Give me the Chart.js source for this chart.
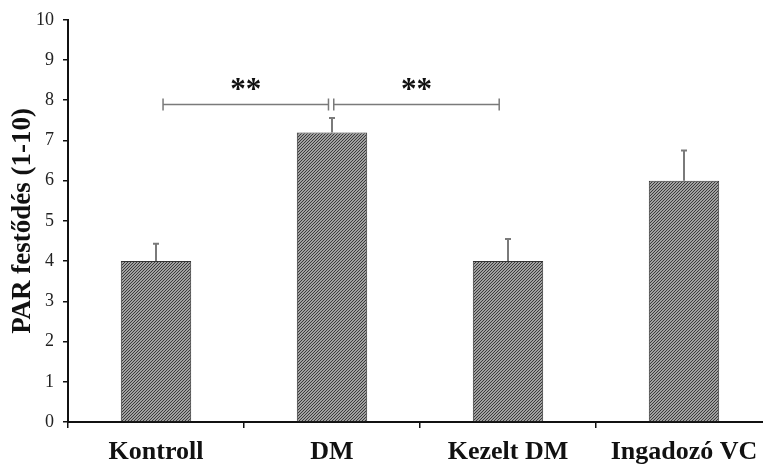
<!DOCTYPE html>
<html>
<head>
<meta charset="utf-8">
<script src="https://cdn.jsdelivr.net/npm/chart.js@4"></script>
<style>
  html, body { margin: 0; padding: 0; background: #fff; overflow: hidden; }
  #wrap { width: 790px; height: 470px; position: relative; }
</style>
</head>
<body>
<div id="wrap"><canvas id="chart" width="790" height="470"></canvas></div>
<script>
// data
const categories = ['Kontroll', 'DM', 'Kezelt DM', 'Ingadozó VC'];
const values = [4.0, 7.2, 4.0, 6.0];
const errors = [0.43, 0.36, 0.55, 0.75];
const yTicks = [0, 1, 2, 3, 4, 5, 6, 7, 8, 9, 10];
// significance brackets: [from category, to category, height, label]
const brackets = [
  [0, 1, 7.9, '**'],
  [1, 2, 7.9, '**']
];

function hatch() {
  const c = document.createElement('canvas');
  c.width = 3; c.height = 3;
  const g = c.getContext('2d');
  g.fillStyle = '#a0a0a0';
  g.fillRect(0, 0, 3, 3);
  g.fillStyle = '#3a3a3a';
  for (let i = 0; i < 3; i++) {
    g.fillRect(2 - i, i, 1, 1);
  }
  return g.createPattern(c, 'repeat');
}

const errorBars = {
  id: 'errorBars',
  afterDatasetsDraw(chart) {
    const ctx = chart.ctx;
    const meta = chart.getDatasetMeta(0);
    const y = chart.scales.y;
    ctx.save();
    ctx.strokeStyle = '#7a7a7a';
    ctx.lineWidth = 2;
    meta.data.forEach((bar, i) => {
      const top = y.getPixelForValue(values[i] + errors[i]);
      ctx.beginPath();
      ctx.moveTo(bar.x, bar.y);
      ctx.lineTo(bar.x, top);
      ctx.moveTo(bar.x - 3, top);
      ctx.lineTo(bar.x + 3, top);
      ctx.stroke();
    });
    ctx.restore();
  }
};

const sigBrackets = {
  id: 'sigBrackets',
  afterDraw(chart) {
    const ctx = chart.ctx;
    const x = chart.scales.x, y = chart.scales.y;
    const w = x.getPixelForValue(1) - x.getPixelForValue(0);
    ctx.save();
    ctx.strokeStyle = '#7a7a7a';
    ctx.lineWidth = 1.5;
    brackets.forEach(([a, b, h, label], k) => {
      const x1 = x.getPixelForValue(a) + (k === 0 ? 0.04 : 0.01) * w;
      const x2 = x.getPixelForValue(b) - (k === 0 ? 0.02 : 0.05) * w;
      const py = Math.round(y.getPixelForValue(h)) + 0.5;
      ctx.beginPath();
      ctx.moveTo(x1, py); ctx.lineTo(x2, py);
      ctx.moveTo(x1, py - 6); ctx.lineTo(x1, py + 6);
      ctx.moveTo(x2, py - 6); ctx.lineTo(x2, py + 6);
      ctx.stroke();
      ctx.fillStyle = '#111';
      ctx.font = 'bold 31px "Liberation Serif"';
      ctx.textAlign = 'center';
      ctx.textBaseline = 'middle';
      ctx.fillText(label, (x1 + x2) / 2, py - 14);
    });
    ctx.restore();
  }
};

new Chart(document.getElementById('chart'), {
  type: 'bar',
  data: {
    labels: categories,
    datasets: [{
      data: values,
      backgroundColor: hatch(),
      borderColor: '#333',
      borderWidth: 1,
      barPercentage: 0.4,
      categoryPercentage: 1.0
    }]
  },
  options: {
    responsive: false,
    animation: false,
    devicePixelRatio: 1,
    layout: { padding: { top: 16, right: 18, bottom: 0, left: 0 } },
    plugins: { legend: { display: false }, tooltip: { enabled: false } },
    scales: {
      x: {
        afterFit(s) { s.height = 48; },
        grid: { display: true, drawOnChartArea: false, offset: true, tickLength: 6, color: '#111', lineWidth: 1.5 },
        border: { display: true, color: '#111', width: 2 },
        ticks: { color: '#111', padding: 9, autoSkip: false, maxRotation: 0, font: { family: 'Liberation Serif', size: 26, weight: 'bold' } }
      },
      y: {
        min: 0, max: 10,
        afterFit(s) { s.width = 68; },
        afterBuildTicks(s) { s.ticks = yTicks.map(v => ({ value: v })); },
        grid: { display: true, drawOnChartArea: false, tickLength: 5, color: '#111', lineWidth: 1.5 },
        border: { display: true, color: '#111', width: 2 },
        ticks: { color: '#222', padding: 9, font: { family: 'Liberation Serif', size: 18 } },
        title: {
          display: true,
          text: 'PAR festődés (1-10)',
          color: '#111',
          padding: { top: 7, bottom: 0 },
          font: { family: 'Liberation Serif', size: 27, weight: 'bold' }
        }
      }
    }
  },
  plugins: [errorBars, sigBrackets]
});
</script>
</body>
</html>
